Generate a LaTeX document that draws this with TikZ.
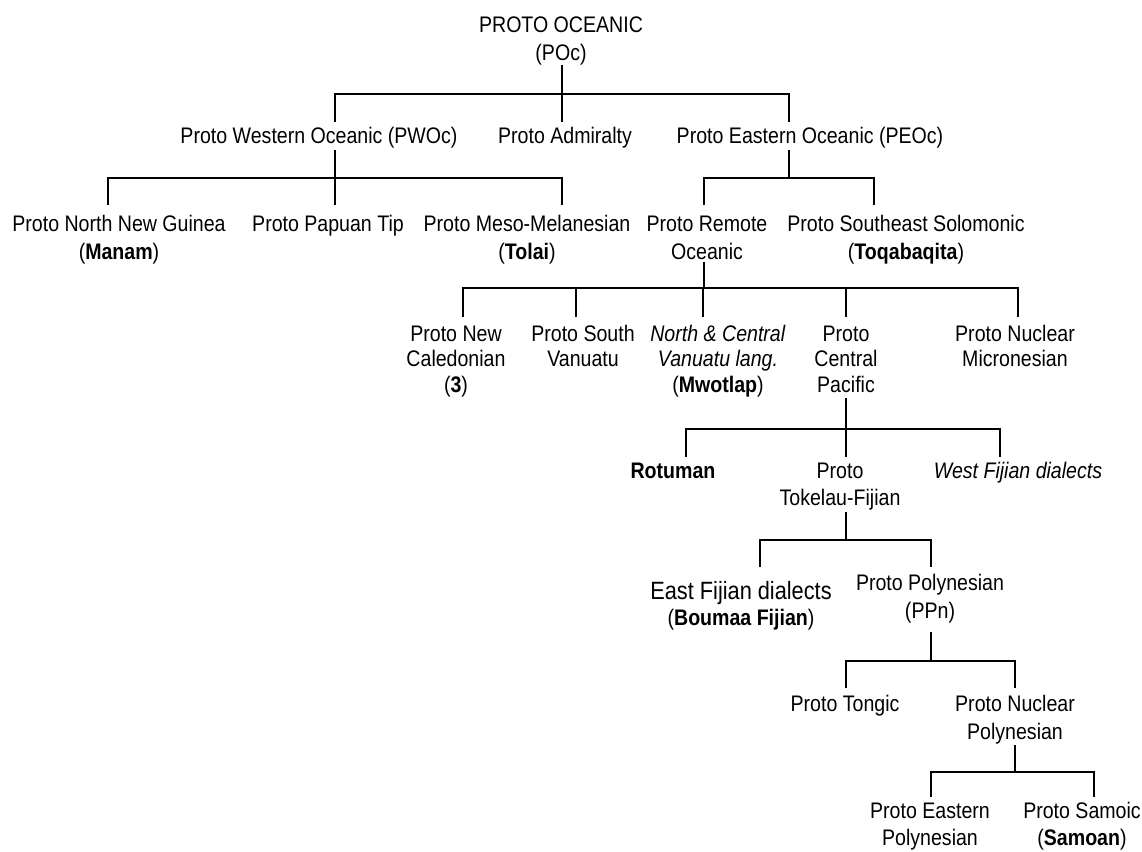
\documentclass[tikz,border=0pt]{standalone}
\usepackage{fontspec}
\setmainfont{Liberation Sans}[FakeStretch=0.87]
\newcommand{\lns}[1]{\begin{tabular}[t]{@{}c@{}}#1\end{tabular}}
\begin{document}
\begin{tikzpicture}[x=1pt,y=-1pt,
  lbl/.style={anchor=base, inner sep=0pt, outer sep=0pt,
    font=\fontsize{22.5}{28}\selectfont},
  lvfour/.style={font=\fontsize{22.5}{25.5}\selectfont},
  link/.style={line width=2.7pt, line join=miter, line cap=butt}]
\useasboundingbox (0,0) rectangle (1142,851);
\fill[white] (0,0) rectangle (1142,851);

% horizontal bars (y levels)
\coordinate (b0) at (0,94);
\coordinate (b1) at (0,178);
\coordinate (b2) at (0,288);
\coordinate (b3) at (0,429);
\coordinate (b4) at (0,540);
\coordinate (b5) at (0,661);
\coordinate (b6) at (0,772);

% connector ends: T = top end (into node), B = bottom end (out of node)
\coordinate (pocB) at (562,65);
\coordinate (pwocT) at (335,122);   \coordinate (pwocB) at (335,150);
\coordinate (admT) at (562,122);
\coordinate (peocT) at (789,122);   \coordinate (peocB) at (789,150);
\coordinate (nngT) at (108,205);
\coordinate (pptT) at (335,205);
\coordinate (mmT) at (562,205);
\coordinate (roT) at (704,205);     \coordinate (roB) at (704,262);
\coordinate (sesT) at (874,205);
\coordinate (ncT) at (463,317);
\coordinate (svT) at (576,317);
\coordinate (ncvT) at (703,317);
\coordinate (cpT) at (846,317);     \coordinate (cpB) at (846,398);
\coordinate (nmT) at (1018,317);
\coordinate (rotT) at (686,457);
\coordinate (tfT) at (846,457);     \coordinate (tfB) at (846,512);
\coordinate (wfT) at (1000,457);
\coordinate (efT) at (760,567);
\coordinate (ppnT) at (931,567);    \coordinate (ppnB) at (931,632);
\coordinate (tonT) at (846,688);
\coordinate (nupT) at (1015,688);   \coordinate (nupB) at (1015,745);
\coordinate (epT) at (931,797);
\coordinate (samT) at (1094,797);

% nodes (positioned at the baseline of their first line)
\node[lbl] (poc) at (561,33) {\lns{PROTO OCEANIC\\(POc)}};

\node[lbl] (pwoc) at (319,143) {Proto Western Oceanic (PWOc)};
\node[lbl] (adm) at (565,143) {Proto Admiralty};
\node[lbl] (peoc) at (810,143) {Proto Eastern Oceanic (PEOc)};

\node[lbl] (nng) at (119,231) {\lns{Proto North New Guinea\\(\textbf{Manam})}};
\node[lbl] (ppt) at (328,231) {Proto Papuan Tip};
\node[lbl] (mm) at (527,231) {\lns{Proto Meso-Melanesian\\(\textbf{Tolai})}};
\node[lbl] (ro) at (707,231) {\lns{Proto Remote\\Oceanic}};
\node[lbl] (ses) at (906,231) {\lns{Proto Southeast Solomonic\\(\textbf{Toqabaqita})}};

\node[lbl,lvfour] (nc) at (456,341) {\lns{Proto New\\Caledonian\\(\textbf{3})}};
\node[lbl,lvfour] (sv) at (583,341) {\lns{Proto South\\Vanuatu}};
\node[lbl,lvfour] (ncv) at (718,341) {\lns{\textit{North \& Central}\\\textit{Vanuatu lang.}\\(\textbf{Mwotlap})}};
\node[lbl,lvfour] (cp) at (846,341) {\lns{Proto\\Central\\Pacific}};
\node[lbl,lvfour] (nm) at (1015,341) {\lns{Proto Nuclear\\Micronesian}};

\node[lbl] (rot) at (673,478) {\textbf{Rotuman}};
\node[lbl,font=\fontsize{22.5}{27}\selectfont] (tf) at (840,478) {\lns{Proto\\Tokelau-Fijian}};
\node[lbl] (wf) at (1018,478) {\textit{West Fijian dialects}};

\node[lbl,font=\fontsize{22.5}{26}\selectfont] (ef) at (741,599) {\lns{{\fontsize{25}{26}\selectfont East Fijian dialects}\\(\textbf{Boumaa Fijian})}};
\node[lbl] (ppn) at (930,590) {\lns{Proto Polynesian\\(PPn)}};

\node[lbl] (ton) at (845,711) {Proto Tongic};
\node[lbl] (nup) at (1015,711) {\lns{Proto Nuclear\\Polynesian}};

\node[lbl,font=\fontsize{22.5}{27}\selectfont] (ep) at (930,818) {\lns{Proto Eastern\\Polynesian}};
\node[lbl,font=\fontsize{22.5}{27}\selectfont] (sam) at (1082,818) {\lns{Proto Samoic\\(\textbf{Samoan})}};

% connectors
\draw[link] (pocB) -- (pocB |- b0);
\draw[link] (pwocT) -- (pwocT |- b0) -- (peocT |- b0) -- (peocT);
\draw[link] (admT) -- (admT |- b0);

\draw[link] (pwocB) -- (pwocB |- b1);
\draw[link] (nngT) -- (nngT |- b1) -- (mmT |- b1) -- (mmT);
\draw[link] (pptT) -- (pptT |- b1);

\draw[link] (peocB) -- (peocB |- b1);
\draw[link] (roT) -- (roT |- b1) -- (sesT |- b1) -- (sesT);

\draw[link] (roB) -- (roB |- b2);
\draw[link] (ncT) -- (ncT |- b2) -- (nmT |- b2) -- (nmT);
\draw[link] (svT) -- (svT |- b2);
\draw[link] (ncvT) -- (ncvT |- b2);
\draw[link] (cpT) -- (cpT |- b2);

\draw[link] (cpB) -- (cpB |- b3);
\draw[link] (rotT) -- (rotT |- b3) -- (wfT |- b3) -- (wfT);
\draw[link] (tfT) -- (tfT |- b3);

\draw[link] (tfB) -- (tfB |- b4);
\draw[link] (efT) -- (efT |- b4) -- (ppnT |- b4) -- (ppnT);

\draw[link] (ppnB) -- (ppnB |- b5);
\draw[link] (tonT) -- (tonT |- b5) -- (nupT |- b5) -- (nupT);

\draw[link] (nupB) -- (nupB |- b6);
\draw[link] (epT) -- (epT |- b6) -- (samT |- b6) -- (samT);
\end{tikzpicture}
\end{document}
